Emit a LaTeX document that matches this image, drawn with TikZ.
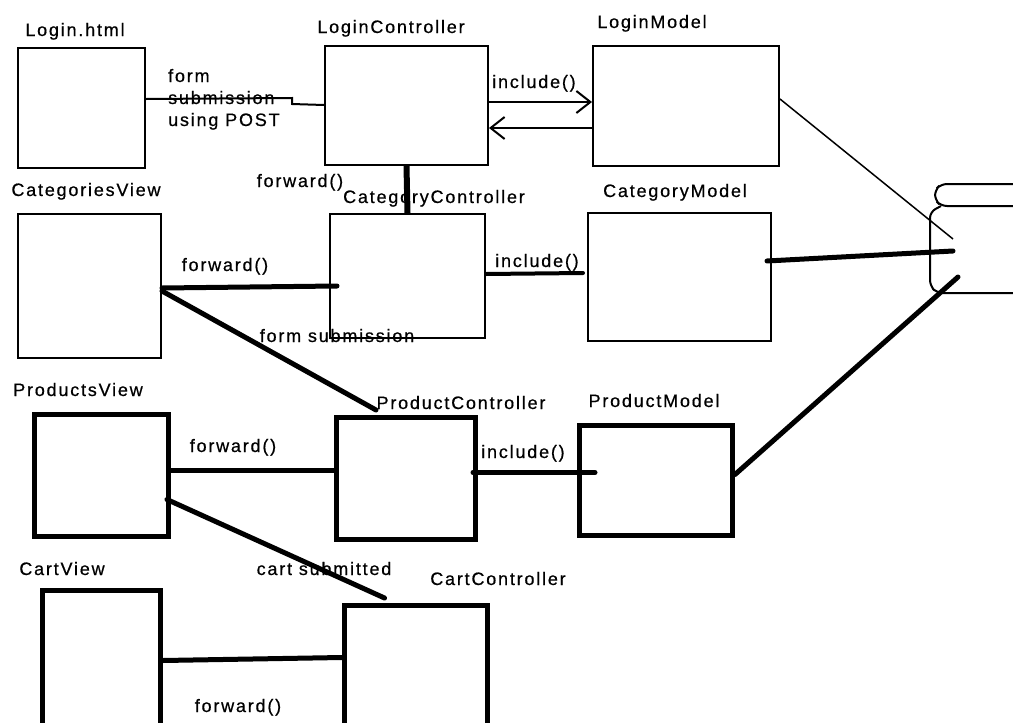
\documentclass[tikz,border=0pt]{standalone}
\usepackage{fontspec}
\setmainfont{Liberation Sans}[LetterSpace=10, FakeBold=0.6]
\usetikzlibrary{arrows.meta}

\begin{document}
\begin{tikzpicture}[x=1pt, y=-1pt, font=\fontsize{18}{22}\selectfont]

\tikzset{
  thinbox/.style={draw, line width=2pt, inner sep=0pt, anchor=north west},
  thickbox/.style={draw, line width=5pt, inner sep=0pt, anchor=north west},
  lab/.style={inner sep=0pt, anchor=base},
  wire/.style={line width=2pt},
  heavy/.style={line width=5pt, line cap=round},
  barb/.style={-{Straight Barb[length=14pt, width=22pt]}, line width=2pt},
}

\useasboundingbox (0,0) rectangle (1013,723);

\node[thinbox, minimum width=127pt, minimum height=120pt] (login) at (17,47) {};
\node[thinbox, minimum width=163pt, minimum height=119pt] (loginctrl) at (324,45) {};
\node[thinbox, minimum width=186pt, minimum height=120pt] (loginmodel) at (592,45) {};
\node[thinbox, minimum width=143pt, minimum height=144pt] (catview) at (17,213) {};
\node[thinbox, minimum width=155pt, minimum height=124pt] (catctrl) at (329,213) {};
\node[thinbox, minimum width=183pt, minimum height=128pt] (catmodel) at (587,212) {};
\node[thickbox, minimum width=134pt, minimum height=122pt] (prodview) at (32,412) {};
\node[thickbox, minimum width=139pt, minimum height=122pt] (prodctrl) at (334,415) {};
\node[thickbox, minimum width=153pt, minimum height=110pt] (prodmodel) at (577,423) {};
\node[thickbox, minimum width=118pt, minimum height=180pt] (cartview) at (40,588) {};
\node[thickbox, minimum width=143pt, minimum height=160pt] (cartctrl) at (342,603) {};

\node[lab] (loginlab) at (75,36) {Login.html};
\node[lab] (loginctrllab) at (391,33) {LoginController};
\node[lab] (loginmodellab) at (652,28) {LoginModel};
\node[lab] (catviewlab) at (86,196) {CategoriesView};
\node[lab] (catctrllab) at (434,203) {CategoryController};
\node[lab] (catmodellab) at (675,197) {CategoryModel};
\node[lab] (prodviewlab) at (78,396) {ProductsView};
\node[lab] (prodctrllab) at (461,409) {ProductController};
\node[lab] (prodmodellab) at (654,407) {ProductModel};
\node[lab] (cartviewlab) at (62,575) {CartView};
\node[lab] (cartctrllab) at (498,585) {CartController};

\node[inner sep=0pt, anchor=base west, align=left] (postlab) at (168,126) {form\\submission\\using POST};
\node[lab] (fwdlab1) at (300,187) {forward()};
\node[lab] (inclab1) at (534,88) {include()};
\node[lab] (fwdlab2) at (225,271) {forward()};
\node[lab] (inclab2) at (537,267) {include()};
\node[lab] (formlab) at (337,342) {form submission};
\node[lab] (fwdlab3) at (233,452) {forward()};
\node[lab] (inclab3) at (523,458) {include()};
\node[lab] (cartlab) at (324,575) {cart submitted};
\node[lab] (fwdlab4) at (238,712) {forward()};

\draw[line width=2pt, rounded corners=6pt]
  (1030,184) -- (941,184) -- (935,190) -- (935,200) -- (941,206) -- (1030,206);
\draw[line width=2pt, rounded corners=6pt]
  (941,206) -- (930,212) -- (930,286) -- (937,293) -- (1030,293);
\coordinate (dbtop) at (953,239);
\coordinate (dbmid) at (953,251);
\coordinate (dblow) at (958,277);

\draw[wire] ([yshift=9pt]login.east) -- (292,98) -- (292,104) -- ([yshift=0.5pt]loginctrl.west);
\draw[barb] ([yshift=3.5pt]loginctrl.east) -- ([yshift=4pt]loginmodel.west);
\draw[barb] ([yshift=-22pt]loginmodel.west) -- ([yshift=-22.5pt]loginctrl.east);
\draw[line width=1.5pt] ([yshift=7pt]loginmodel.east) -- (dbtop);
\draw[line width=6pt] (loginctrl.south) -- (catctrl.north);

\draw[heavy] ([yshift=-2pt]catview.east) -- ([xshift=8pt, yshift=-10pt]catctrl.west);
\draw[line width=4pt, line cap=round] ([yshift=2pt]catctrl.east) -- ([xshift=-4pt, yshift=4pt]catmodel.west);
\draw[heavy] ([xshift=-5pt, yshift=16pt]catmodel.east) -- (dbmid);
\draw[heavy] ([yshift=-5pt]catview.east) -- ([xshift=-30pt, yshift=5pt]prodctrl.north);

\draw[heavy] ([yshift=5pt]prodview.east) -- ([yshift=8pt]prodctrl.west);
\draw[heavy] ([xshift=-5pt, yshift=6pt]prodctrl.east) -- ([xshift=18pt, yshift=8pt]prodmodel.west);
\draw[heavy] ([yshift=6pt]prodmodel.east) -- (dblow);
\draw[heavy] ([xshift=-4pt, yshift=-24pt]prodview.east) -- ([xshift=-31.5pt, yshift=5pt]cartctrl.north);

\draw[heavy] ([yshift=20pt]cartview.east) -- ([yshift=28pt]cartctrl.west);

\end{tikzpicture}
\end{document}
